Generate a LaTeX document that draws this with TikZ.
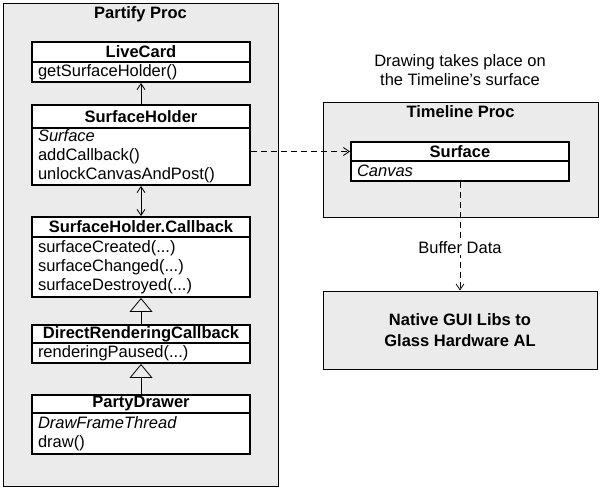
\documentclass[tikz,border=0pt]{standalone}
\usepackage{fontspec}
\setmainfont{Liberation Sans}
\usetikzlibrary{arrows.meta,calc}
\begin{document}
\begin{tikzpicture}[x=1pt,y=-1pt,
  every node/.style={font=\fontsize{16.5}{19}\selectfont},
  cont/.style={draw, line width=0.8pt, fill=black!8, inner sep=0pt},
  ttl/.style={font=\fontsize{16.5}{19}\selectfont\bfseries, inner sep=0pt},
  hdr/.style={draw, line width=1.9pt, fill=white, minimum width=218pt, inner sep=0pt, font=\fontsize{16.5}{19}\selectfont\bfseries},
  bdy/.style={draw, line width=1.9pt, fill=white, text width=206pt, inner xsep=6pt, inner ysep=0pt, align=left},
  ln/.style={line width=0.8pt},
  dsh/.style={line width=0.8pt, dash pattern=on 6pt off 4pt},
  vee/.style={-{Straight Barb[length=6pt,width=8pt]}},
  gen/.style={-{Triangle[open,length=14pt,width=23pt]}},
  lbl/.style={inner sep=2pt, align=center}
]
\useasboundingbox (0,0) rectangle (601,488);

% containers
\node[cont, minimum width=275pt, minimum height=483pt] (partify) at (140.5,244.5) {};
\node[ttl] (partifyt) at (140.5,14) {Partify Proc};
\node[cont, minimum width=275pt, minimum height=115pt] (timeline) at (460.5,159.5) {};
\node[ttl] (timelinet) at (460.5,112) {Timeline Proc};
\node[cont, minimum width=274pt, minimum height=78pt, font=\fontsize{16.5}{21}\selectfont\bfseries, align=center] (native) at (460,330) {Native GUI Libs to\\Glass Hardware AL};

% LiveCard
\node[hdr, minimum height=20pt] (lch) at (141,52) {LiveCard};
\node[bdy, minimum height=20pt] (lcb) at (141,72) {getSurfaceHolder()};
% SurfaceHolder
\node[hdr, minimum height=23pt] (shh) at (141,116.5) {SurfaceHolder};
\node[bdy, minimum height=57pt] (shb) at (141,156.5) {\textit{Surface}\\addCallback()\\unlockCanvasAndPost()};
% SurfaceHolder.Callback
\node[hdr, minimum height=20pt] (cbh) at (141,227) {SurfaceHolder.Callback};
\node[bdy, minimum height=60pt] (cbb) at (141,267) {surfaceCreated(...)\\surfaceChanged(...)\\surfaceDestroyed(...)};
% DirectRenderingCallback
\node[hdr, minimum height=18pt] (drh) at (141,334) {DirectRenderingCallback};
\node[bdy, minimum height=20pt] (drb) at (141,353) {renderingPaused(...)};
% PartyDrawer
\node[hdr, minimum height=18pt] (pdh) at (141,404) {PartyDrawer};
\node[bdy, minimum height=41pt] (pdb) at (141,433.5) {\textit{DrawFrameThread}\\draw()};
% Surface
\node[hdr, minimum height=19pt] (sfh) at (460,151.5) {Surface};
\node[bdy, minimum height=20pt] (sfb) at (460,171) {\textit{Canvas}};

% note
\node[lbl] (note) at (460,70.5) {Drawing takes place on\\the Timeline's surface};

% connectors
\draw[ln, vee] (shh.north) -- (lcb.south);
\draw[ln, {Straight Barb[length=6pt,width=8pt]}-{Straight Barb[length=6pt,width=8pt]}] (shb.south) -- (cbh.north);
\draw[ln, gen] (drh.north) -- (cbb.south);
\draw[ln, gen] (pdh.north) -- (drb.south);
\draw[dsh, vee] (shb.east |- sfh.west) -- (sfh.west);
\draw[dsh, vee] (sfb.south) -- node[pos=0.6, fill=white, lbl] (buf) {Buffer Data} (native.north);
\end{tikzpicture}
\end{document}
